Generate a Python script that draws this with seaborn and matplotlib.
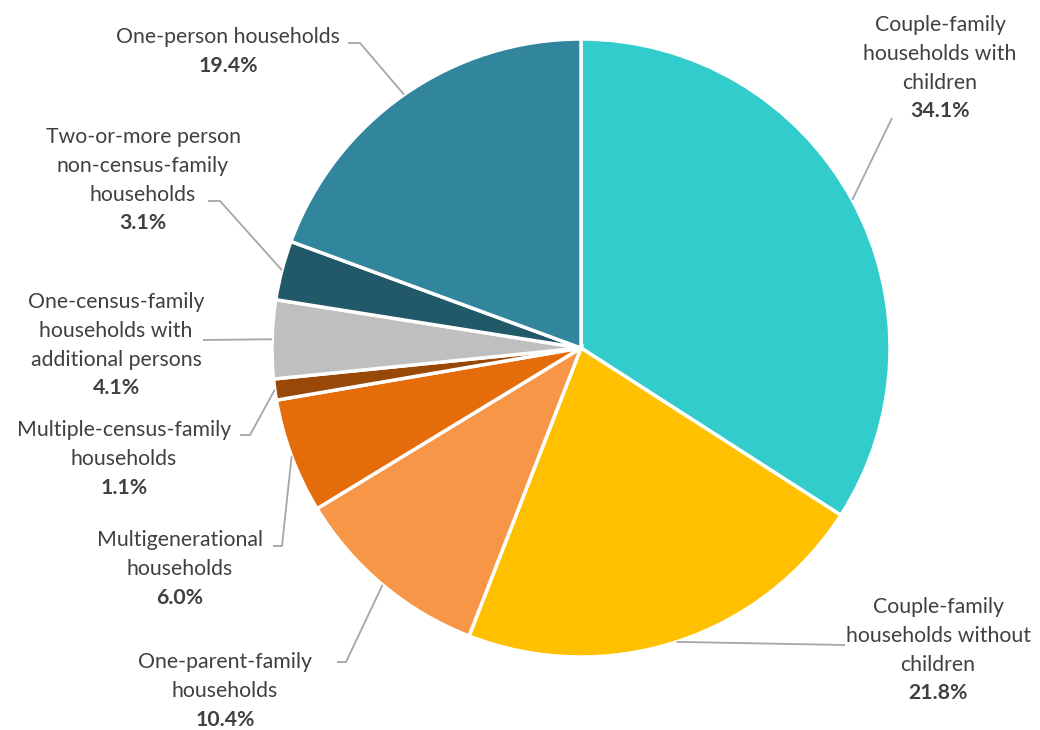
import matplotlib.pyplot as plt
import numpy as np
import seaborn as sns

# Données
labels = [
    "Couple-family\nhouseholds with\nchildren",
    "Couple-family\nhouseholds without\nchildren",
    "One-parent-family\nhouseholds",
    "Multigenerational\nhouseholds",
    "Multiple-census-family\nhouseholds",
    "One-census-family\nhouseholds with\nadditional persons",
    "Two-or-more person\nnon-census-family\nhouseholds",
    "One-person households",
]
shares = [34.1, 21.8, 10.4, 6.0, 1.1, 4.1, 3.1, 19.4]
colors = ["#33CCCC", "#FFC000", "#F79646", "#E46C0A", "#984807",
          "#BFBFBF", "#215968", "#31859C"]

# Mise en page (pixels, origine en haut à gauche)
W, H = 1040, 730
cx, cy, r = 581, 348, 309
label_pos = [(940, 25), (938, 607), (225, 662), (180, 540),
             (124, 430), (116, 302), (143, 137), (228, 37)]
leader_pts = [
    [(892, 118)],
    [(845, 645)],
    [(346, 662), (337, 662)],
    [(282, 546), (273, 546)],
    [(250, 435), (240, 435)],
    [(203, 340)],
    [(220, 201), (208, 201)],
    [(360, 43), (348, 43)],
]
pitch = 28.8

sns.set_theme(style="white")
plt.rcParams['font.family'] = ['Lato', 'DejaVu Sans']

fig = plt.figure(figsize=(W / 100, H / 100), dpi=100)
ax = fig.add_axes([0, 0, 1, 1])

wedges, _ = ax.pie(shares, colors=colors, startangle=90, counterclock=False,
                   center=(cx, H - cy), radius=r,
                   wedgeprops=dict(edgecolor='white', linewidth=2.5))
ax.set_xlim(0, W)
ax.set_ylim(0, H)
ax.set_aspect('equal')
ax.axis('off')

for w, lab, (lx, ly), pts, v in zip(wedges, labels, label_pos, leader_pts, shares):
    ang = np.deg2rad((w.theta1 + w.theta2) / 2)
    ax0 = cx + r * np.cos(ang)
    ay0 = (H - cy) + r * np.sin(ang)
    xs = [ax0] + [p[0] for p in pts]
    ys = [ay0] + [H - p[1] for p in pts]
    ax.plot(xs, ys, color='#A6A6A6', lw=1.3, solid_capstyle='butt')
    lines = lab.split("\n")
    for i, t in enumerate(lines):
        ax.text(lx, H - (ly + i * pitch), t, ha='center', va='center',
                fontsize=15.3, color='#404040')
    ax.text(lx, H - (ly + len(lines) * pitch), f"{v:.1f}%", ha='center',
            va='center', fontsize=15.3, fontweight='bold', color='#404040')

fig.savefig("out.png", dpi=100, facecolor='white')
